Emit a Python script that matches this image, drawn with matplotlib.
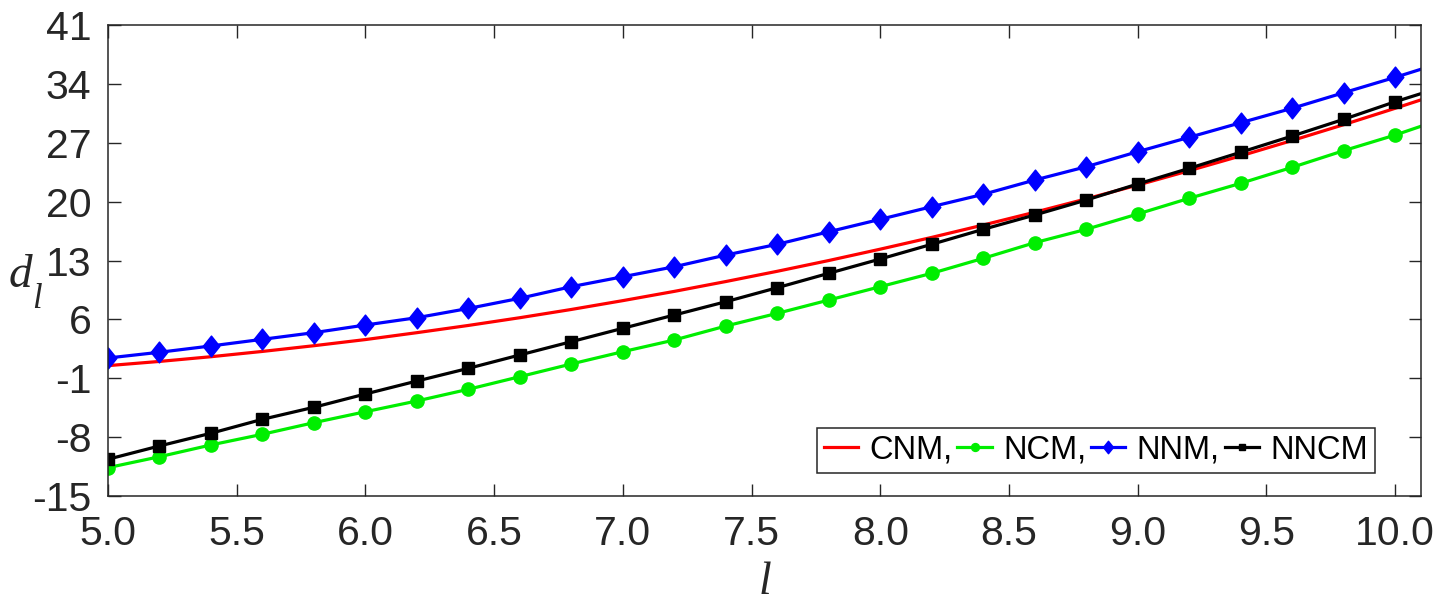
import numpy as np
import matplotlib.pyplot as plt

# x grid for the marked series (every 0.2)
l_vals = [5.0, 5.2, 5.4, 5.6, 5.8, 6.0, 6.2, 6.4, 6.6, 6.8, 7.0, 7.2, 7.4,
          7.6, 7.8, 8.0, 8.2, 8.4, 8.6, 8.8, 9.0, 9.2, 9.4, 9.6, 9.8, 10.0, 10.2]

cnm = [0.50, 1.00, 1.56, 2.19, 2.87, 3.60, 4.42, 5.28, 6.20, 7.18, 8.23, 9.33,
       10.50, 11.72, 13.00, 14.35, 15.75, 17.22, 18.74, 20.33, 21.97, 23.68,
       25.44, 27.27, 29.15, 31.10, 33.10]
ncm = [-11.63, -10.33, -8.93, -7.66, -6.28, -4.98, -3.70, -2.31, -0.81, 0.70,
       2.16, 3.55, 5.21, 6.72, 8.30, 9.89, 11.48, 13.26, 15.12, 16.71, 18.53,
       20.40, 22.18, 24.08, 26.06, 27.92, 30.00]
nnm = [1.41, 2.09, 2.84, 3.63, 4.42, 5.33, 6.20, 7.30, 8.51, 9.89, 11.07,
       12.26, 13.65, 14.93, 16.42, 17.90, 19.40, 20.87, 22.57, 24.15, 25.94,
       27.65, 29.38, 31.10, 32.95, 34.78, 36.70]
nncm = [-10.63, -9.05, -7.54, -5.88, -4.45, -2.87, -1.33, 0.18, 1.77, 3.35,
        4.94, 6.52, 8.10, 9.77, 11.48, 13.18, 14.93, 16.71, 18.41, 20.19,
        22.10, 23.96, 25.87, 27.80, 29.79, 31.88, 33.80]

x_ticks = [5.0, 5.5, 6.0, 6.5, 7.0, 7.5, 8.0, 8.5, 9.0, 9.5, 10.0]
y_ticks = [-15, -8, -1, 6, 13, 20, 27, 34, 41]

plt.rcParams['font.family'] = ['Liberation Sans', 'DejaVu Sans']
plt.rcParams['axes.unicode_minus'] = False

fig = plt.figure(figsize=(14.55, 6.04), dpi=100)
ax = fig.add_axes([0.0742, 0.1788, 0.9024, 0.7798])

# slightly tall diamond like the original
diamond = [(-0.8, 0), (0, 1), (0.8, 0), (0, -1), (-0.8, 0)]

ax.plot(l_vals, cnm, color='red', lw=2.3, label='CNM,')
ax.plot(l_vals, ncm, color='#00ee00', lw=2.3, marker='o', ms=9.5,
        label='NCM,')
ax.plot(l_vals, nnm, color='blue', lw=2.3, marker=diamond, ms=15,
        label='NNM,')
ax.plot(l_vals, nncm, color='black', lw=2.3, marker='s', ms=8.3,
        label='NNCM')

ax.set_xlim(5.0, 10.1)
ax.set_ylim(-15, 41)
ax.set_xticks(x_ticks)
ax.set_xticklabels(['%.1f' % v for v in x_ticks])
ax.set_yticks(y_ticks)
ax.tick_params(axis='both', direction='in', length=9, width=1.0,
               labelsize=29.5, colors='#262626', top=True, right=True)
ax.tick_params(axis='x', pad=14)
ax.tick_params(axis='y', pad=12)
for sp in ax.spines.values():
    sp.set_color('#262626')
    sp.set_linewidth(1.1)

ax.set_xlabel('l', fontsize=33, family='Liberation Serif', style='italic',
              va='baseline', color='#262626')
ax.xaxis.set_label_coords(0.5, -0.208)

# y label d_l drawn as two pieces to match the loose subscript spacing
fig.text(9 / 1455, 1 - 287 / 604, 'd', fontsize=34, family='Liberation Serif',
         style='italic', ha='left', va='baseline', color='#262626')
fig.text(32 / 1455, 1 - 308 / 604, 'l', fontsize=25, family='Liberation Serif',
         style='italic', ha='left', va='baseline', color='#262626')

leg = ax.legend(loc='lower right', ncol=4, fontsize=23.5, frameon=True,
                fancybox=False, edgecolor='#262626', framealpha=1,
                handlelength=1.05, handletextpad=0.35, columnspacing=0.15,
                borderpad=0.22, borderaxespad=0.0, markerscale=0.6,
                bbox_to_anchor=(0.9652, 0.0488))
leg.get_frame().set_linewidth(1.1)

fig.savefig('out.png', dpi=100)
